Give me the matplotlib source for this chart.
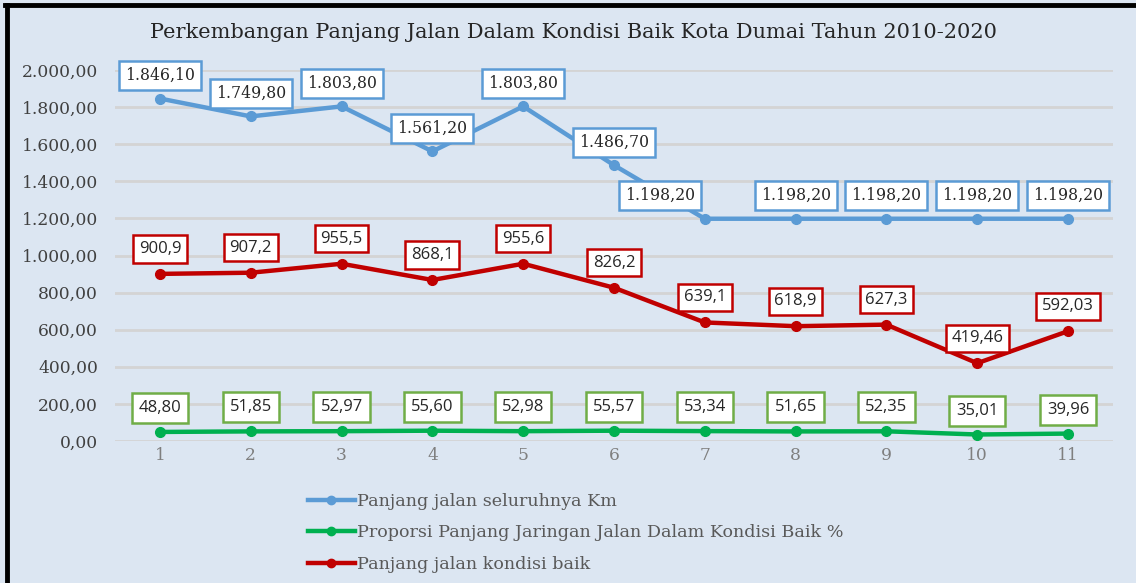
import matplotlib
matplotlib.use("Agg")
import matplotlib.pyplot as plt
from matplotlib.ticker import FuncFormatter, FixedLocator
from matplotlib.lines import Line2D

# --- data -----------------------------------------------------------------
years = [1, 2, 3, 4, 5, 6, 7, 8, 9, 10, 11]
panjang_total = [1846.10, 1749.80, 1803.80, 1561.20, 1803.80, 1486.70,
                 1198.20, 1198.20, 1198.20, 1198.20, 1198.20]
proporsi_baik = [48.80, 51.85, 52.97, 55.60, 52.98, 55.57,
                 53.34, 51.65, 52.35, 35.01, 39.96]
panjang_baik = [900.9, 907.2, 955.5, 868.1, 955.6, 826.2,
                639.1, 618.9, 627.3, 419.46, 592.03]

series_names = ["Panjang jalan seluruhnya Km",
                "Proporsi Panjang Jaringan Jalan Dalam Kondisi Baik %",
                "Panjang jalan kondisi baik"]
title = "Perkembangan Panjang Jalan Dalam Kondisi Baik Kota Dumai Tahun 2010-2020"

# --- styling ----------------------------------------------------------------
BG = "#DCE6F2"
BLUE = "#5B9BD5"
GREEN = "#00B050"
GREEN_EDGE = "#70AD47"
RED = "#C00000"
GRID = "#D4D4D4"

W, H = 1136, 583
fig = plt.figure(figsize=(W / 100, H / 100), dpi=100)
fig.patch.set_facecolor(BG)


def fx(px):
    return px / W


def fy(py):
    return 1 - py / H


ax = fig.add_axes([fx(114.6), fy(441), fx(1113.4) - fx(114.6), fy(70) - fy(441)])
ax.set_facecolor(BG)
ax.set_xlim(0.5, 11.5)
ax.set_ylim(0, 2000)
for s in ax.spines.values():
    s.set_visible(False)

ax.yaxis.set_major_locator(FixedLocator(range(0, 2001, 200)))
ax.grid(axis="y", color=GRID, linewidth=2, zorder=0)
ax.set_axisbelow(True)


def id_num(v, dec=2):
    s = f"{v:,.{dec}f}"
    return s.replace(",", "X").replace(".", ",").replace("X", ".")


ax.yaxis.set_major_formatter(FuncFormatter(lambda v, p: id_num(v, 2)))
ax.set_xticks(years)
ax.set_xticklabels([str(y) for y in years])
ax.tick_params(axis="y", length=0, pad=12, labelsize=12.3, labelcolor="#404040")
ax.tick_params(axis="x", length=0, pad=4, labelsize=12.3, labelcolor="#7F7F7F")
for lab in ax.get_yticklabels() + ax.get_xticklabels():
    lab.set_family("DejaVu Serif")

lw, ms = 3.2, 7
ax.plot(years, panjang_total, color=BLUE, lw=lw, marker="o", ms=ms, zorder=3,
        solid_capstyle="round")
ax.plot(years, proporsi_baik, color=GREEN, lw=lw, marker="o", ms=ms, zorder=3,
        solid_capstyle="round")
ax.plot(years, panjang_baik, color=RED, lw=lw, marker="o", ms=ms, zorder=3,
        solid_capstyle="round")


def label(x, y, text, edge, family, dx=0, dy=24, size=11, pad=0.4):
    ax.annotate(text, (x, y), xytext=(dx, dy), textcoords="offset pixels",
                ha="center", va="center", fontsize=size, family=family,
                color="#262626", zorder=5,
                bbox=dict(boxstyle=f"square,pad={pad}", fc="white", ec=edge, lw=1.8))


blue_dx = [0, 0, 0, 0, 0, 0, -45, 0, 0, 0, 0]
for x, v, dx in zip(years, panjang_total, blue_dx):
    label(x, v, id_num(v, 2), BLUE, "DejaVu Serif", dx=dx, dy=23, size=11.3, pad=0.38)

for x, v in zip(years, panjang_baik):
    label(x, v, repr(v).replace(".", ","), RED, "Open Sans", dy=25, size=12, pad=0.34)

for x, v in zip(years, proporsi_baik):
    label(x, v, f"{v:.2f}".replace(".", ","), GREEN_EDGE, "Open Sans", dy=24,
          size=12, pad=0.42)

# title
fig.text(fx(573), fy(33), title, ha="center", va="center", fontsize=15,
         family="DejaVu Serif", color="#262626")

# legend
handles = [Line2D([], [], color=c, lw=lw, marker="o", ms=ms - 1)
           for c in (BLUE, GREEN, RED)]
leg = fig.legend(handles, series_names, loc="upper left",
                 bbox_to_anchor=(fx(292), fy(477)), frameon=False,
                 handlelength=2.7, handletextpad=0.1, labelspacing=0.84,
                 prop={"family": "DejaVu Serif", "size": 12.6})
for t in leg.get_texts():
    t.set_color("#595959")

# frame on the top and left edges
fig.add_artist(Line2D([fx(7), fx(7)], [0, fy(5)], color="black", lw=3.5,
                      transform=fig.transFigure))
fig.add_artist(Line2D([fx(5), 1], [fy(5), fy(5)], color="black", lw=3.5,
                      transform=fig.transFigure))

fig.savefig("out.png", dpi=100, facecolor=BG)
